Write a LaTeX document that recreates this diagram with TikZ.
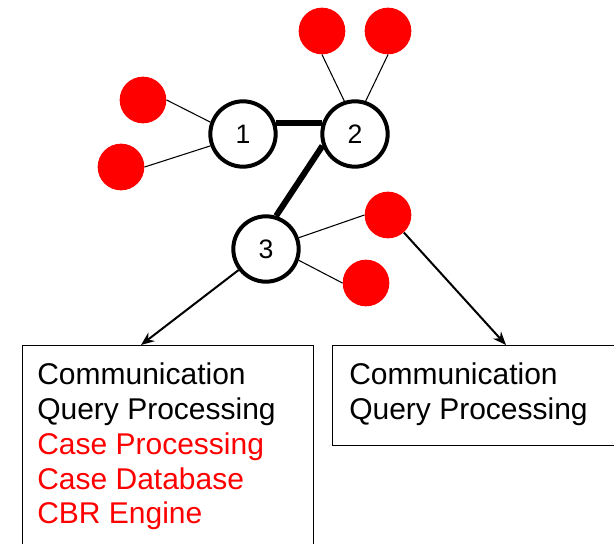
\documentclass[tikz,border=0pt]{standalone}
\usepackage{fontspec}
\setmainfont{Liberation Sans}
\usetikzlibrary{arrows.meta}
\definecolor{pured}{RGB}{255,0,0}
\tikzset{
  hub/.style={circle,draw=black,line width=3pt,fill=white,minimum size=49pt,inner sep=0pt,font=\fontsize{20}{24}\selectfont},
  leaf/.style={circle,fill=pured,minimum size=35pt,inner sep=0pt},
  thin/.style={line width=0.8pt},
  trunk/.style={line width=4.5pt},
  arr/.style={line width=1.5pt,-{Stealth[length=10pt,width=8pt]}},
  box/.style={draw=black,line width=1.1pt,anchor=north west,inner sep=0pt},
  txt/.style={anchor=base west,inner sep=0pt,font=\fontsize{22.5}{26}\selectfont},
  redtxt/.style={txt,text=pured}
}
\begin{document}
\begin{tikzpicture}[x=0.75pt,y=-0.75pt]
\useasboundingbox (0,0) rectangle (614,543);
% boxes (clipped at picture edge)
\begin{scope}
\clip (0,0) rectangle (614,543);
\node[box,minimum width=218.25pt,minimum height=165pt] (b1) at (22,345) {};
\node[box,minimum width=300pt,minimum height=75pt] (b2) at (332,345) {};
\end{scope}
% hubs
\node[hub] (n1) at (243,134) {1};
\node[hub] (n2) at (355,134) {2};
\node[hub] (n3) at (266,249) {3};
% leaves
\node[leaf] (a) at (143,100) {};
\node[leaf] (b) at (121,167) {};
\node[leaf] (c) at (322,31) {};
\node[leaf] (d) at (388,31) {};
\node[leaf] (e) at (388,215) {};
\node[leaf] (f) at (366,283) {};
% thin links
\draw[thin] (a.east) -- (n1.160);
\draw[thin] (b.east) -- (n1.200);
\draw[thin] (c.south) -- (n2.108);
\draw[thin] (d.south) -- (n2.72);
\draw[thin] (e.west) -- (n3.19);
\draw[thin] (f.west) -- (n3.-19);
% trunk links
\draw[trunk] (n1.19) -- (n2.161);
\draw[trunk] (n2.200) -- (n3.73);
% arrows
\coordinate (t1) at (141,345);
\coordinate (t2) at (506,345);
\draw[arr] (n3) -- (t1);
\draw[arr] (e) -- (t2);
% texts
\node[txt] (l1) at (37,384) {Communication};
\node[txt] (l2) at (37,419) {Query Processing};
\node[redtxt] (l3) at (37,454) {Case Processing};
\node[redtxt] (l4) at (37,489) {Case Database};
\node[redtxt] (l5) at (37,523) {CBR Engine};
\node[txt] (m1) at (349,384) {Communication};
\node[txt] (m2) at (349,419) {Query Processing};
\end{tikzpicture}
\end{document}
